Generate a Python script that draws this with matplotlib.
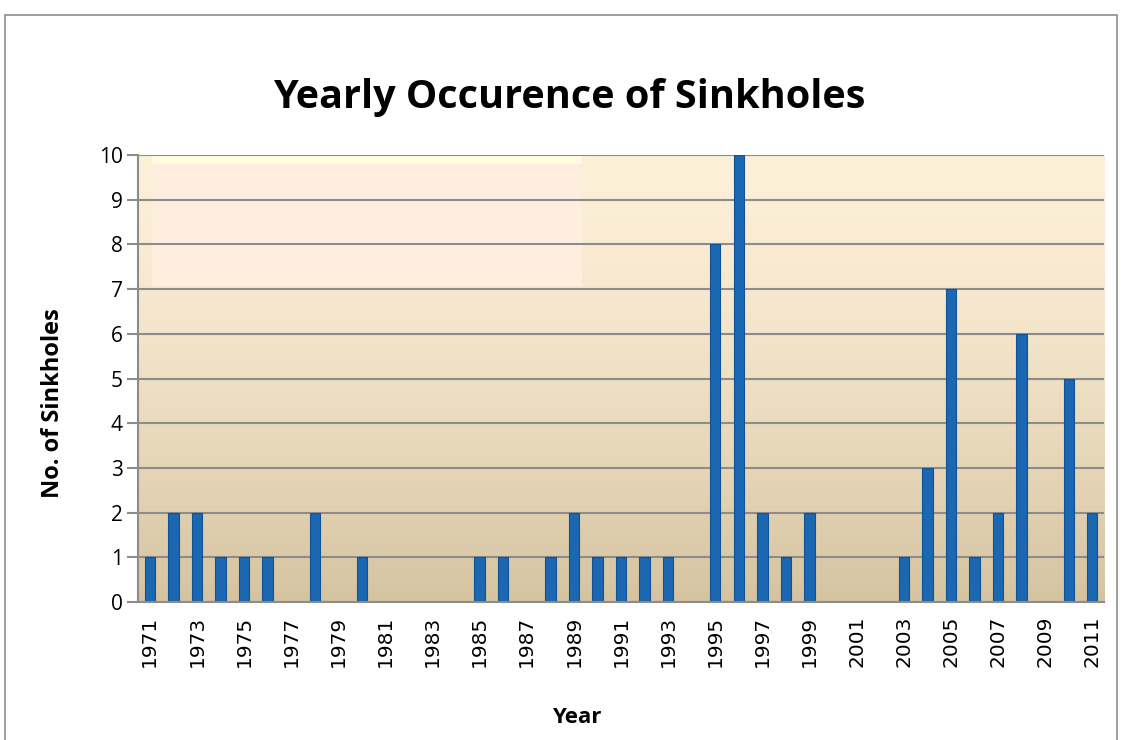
import matplotlib
matplotlib.use('Agg')
import matplotlib.pyplot as plt
import numpy as np
from matplotlib.patches import Rectangle

# data
years = list(range(1971, 2012))
counts = [1, 2, 2, 1, 1, 1, 0, 2, 0, 1,
          0, 0, 0, 0, 1, 1, 0, 1, 2, 1,
          1, 1, 1, 0, 8, 10, 2, 1, 2, 0,
          0, 0, 1, 3, 7, 1, 2, 6, 0, 5,
          2]
tick_years = years[::2]

fig = plt.figure(figsize=(11.22, 7.40), dpi=100)
ax = fig.add_axes([0.123, 0.1865, 0.861, 0.604])

# outer chart border
fig.patches.append(Rectangle((0.0045, -0.05), 0.991, 1.03, transform=fig.transFigure,
                             fill=False, edgecolor='#8c8c8c', linewidth=1.2))

x = np.arange(len(years))

# background gradient in plot area (lighter in the upper half)
grad = np.linspace(0, 1, 256) ** 1.5
grad = grad.reshape(-1, 1)
top = np.array([253, 240, 216]) / 255
bot = np.array([213, 195, 160]) / 255
img = top + (bot - top) * grad[:, :, None]
img = img.reshape(256, 1, 3)
ax.imshow(img, extent=(-0.5, len(years) - 0.5, 0, 10), aspect='auto', zorder=0,
          origin='upper', interpolation='bicubic')
# lighter patches in the upper left of the background
ax.add_patch(Rectangle((0.0145, 0.707), 0.4455, 0.273, transform=ax.transAxes,
                       facecolor='#feeee0', edgecolor='none', zorder=0.5))
ax.add_patch(Rectangle((0.0145, 0.980), 0.4455, 0.020, transform=ax.transAxes,
                       facecolor='#fffdde', edgecolor='none', zorder=0.5))

ax.bar(x, counts, width=0.44, color='#1b67b2', edgecolor='#0f5296', linewidth=0.8, zorder=3)

ax.set_xlim(-0.5, len(years) - 0.5)
ax.set_ylim(0, 10)
ax.set_yticks(range(0, 11))
ax.set_xticks(x[::2])
ax.set_xticklabels([str(y) for y in tick_years], rotation=90, fontsize=14.5,
                   family='DejaVu Sans')
for lbl in ax.get_yticklabels():
    lbl.set_fontfamily('Open Sans')
    lbl.set_fontsize(15)

ax.grid(axis='y', color='#8c8c8c', linewidth=1.5, zorder=1)
ax.set_axisbelow(False)
for s in ['top', 'right']:
    ax.spines[s].set_visible(False)
for s in ['left', 'bottom']:
    ax.spines[s].set_color('#8c8c8c')
    ax.spines[s].set_linewidth(1.5)
    ax.spines[s].set_zorder(4)
ax.tick_params(axis='y', length=8, width=1.5, color='#8c8c8c', pad=3)
ax.tick_params(axis='x', length=0, pad=10)

fig.text(0.507, 0.868, 'Yearly Occurence of Sinkholes', ha='center', va='center',
         fontsize=28.5, fontweight='bold', family='Open Sans')
fig.text(0.047, 0.455, 'No. of Sinkholes', ha='center', va='center', rotation=90,
         fontsize=17, fontweight='bold', family='Open Sans')
fig.text(0.514, 0.030, 'Year', ha='center', va='center',
         fontsize=16, fontweight='bold', family='Open Sans')

plt.savefig('out.png', dpi=100)
